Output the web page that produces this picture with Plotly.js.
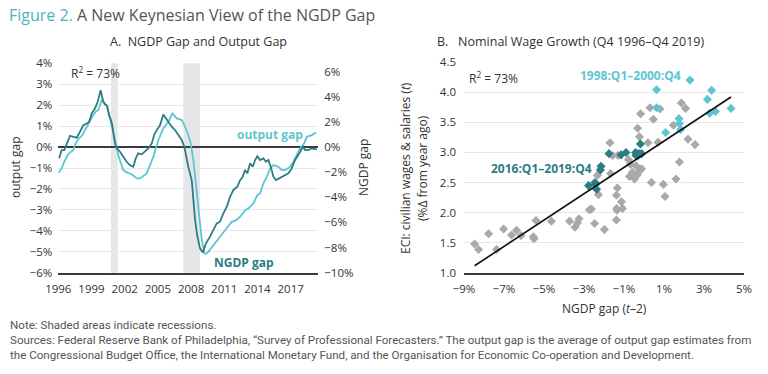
<!DOCTYPE html>
<html>
<head>
<meta charset="utf-8">
<script src="https://cdn.plot.ly/plotly-3.0.1.min.js"></script>
<style>
  html, body { margin: 0; padding: 0; background: #fff; }
  #chart { width: 768px; height: 374px; }
</style>
</head>
<body>
<div id="chart"></div>
<script>
// ---------- Panel A data ----------
const ngdpYears = [1996.06,1996.31,1996.54,1996.76,1997.06,1997.36,1997.66,1997.96,1998.26,1998.57,1998.78,1999.02,1999.32,1999.56,1999.83,2000.07,2000.22,2000.40,2000.58,2000.76,2000.88,2001.01,2001.13,2001.28,2001.58,2001.88,2002.18,2002.47,2002.78,2003.00,2003.23,2003.54,2003.84,2004.14,2004.45,2004.68,2004.90,2005.20,2005.49,2005.65,2005.95,2006.25,2006.55,2006.85,2007.16,2007.39,2007.61,2007.75,2008.06,2008.21,2008.36,2008.57,2008.81,2009.06,2009.35,2009.71,2010.01,2010.32,2010.62,2010.92,2011.23,2011.53,2011.82,2012.18,2012.43,2012.67,2012.88,2013.09,2013.33,2013.58,2013.79,2013.99,2014.24,2014.54,2014.78,2014.99,2015.20,2015.44,2015.68,2015.98,2016.34,2016.80,2017.10,2017.40,2017.79,2018.10,2018.31,2018.60,2018.91,2019.36];
const ngdpGap = [-0.9,-0.24,-0.24,0.29,0.9,0.82,0.75,1.22,1.75,1.88,2.0,2.68,3.08,3.6,4.53,3.6,3.4,3.3,2.55,2.15,1.75,0.95,0.29,-0.1,-0.37,-0.77,-1.17,-1.43,-1.57,-0.9,-0.5,-0.58,-0.37,-0.1,0.29,1.01,1.35,1.75,2.6,2.4,2.0,1.62,1.35,0.95,0.56,0.03,-1.17,-1.57,-2.63,-4.2,-5.8,-7.1,-8.06,-8.4,-7.66,-7.13,-6.6,-6.07,-5.94,-5.27,-4.75,-3.95,-3.42,-3.16,-2.63,-2.36,-1.83,-2.09,-1.3,-1.57,-1.03,-0.72,-1.03,-0.9,-1.17,-1.03,-1.57,-2.36,-2.63,-2.49,-2.31,-2.09,-1.7,-1.03,-0.5,0.02,-0.24,-0.24,-0.1,-0.18];

const outYears = [1996.00,1996.31,1996.54,1996.85,1997.15,1997.36,1997.57,1997.87,1998.17,1998.48,1998.78,1999.07,1999.38,1999.62,1999.92,2000.22,2000.47,2000.67,2000.88,2001.06,2001.22,2001.42,2001.66,2001.88,2002.18,2002.64,2003.09,2003.39,2003.99,2004.29,2004.59,2005.04,2005.49,2005.95,2006.31,2006.71,2007.16,2007.46,2007.91,2008.21,2008.51,2008.75,2008.97,2009.20,2009.33,2009.56,2010.01,2010.47,2010.92,2011.37,2011.68,2012.07,2012.43,2012.88,2013.18,2013.63,2013.99,2014.24,2014.54,2014.84,2015.14,2015.44,2015.89,2016.20,2016.50,2016.95,2017.25,2017.56,2017.85,2018.15,2018.46,2018.91,2019.30];
const outputGap = [-1.23,-1.02,-0.7,-0.38,-0.22,-0.14,0.18,0.42,0.57,0.89,1.13,1.45,1.69,1.77,2.24,2.09,1.85,1.37,0.97,0.57,0.13,-0.38,-0.78,-1.1,-1.21,-1.3,-1.5,-1.5,-1.26,-0.9,-0.46,0.33,0.89,1.21,1.61,1.37,1.29,0.97,0.33,-0.62,-2.05,-3.49,-4.44,-5.08,-5.11,-5.0,-4.68,-4.36,-4.04,-3.77,-3.57,-3.49,-3.33,-3.01,-2.93,-2.69,-2.29,-2.21,-1.73,-1.42,-1.02,-0.86,-0.94,-1.1,-1.1,-0.94,-0.7,-0.38,-0.06,0.1,0.49,0.57,0.7];

const recessionStart = [2000.76, 2007.30];
const recessionEnd   = [2001.37, 2008.81];
const yearTicks = [1996, 1999, 2002, 2005, 2008, 2011, 2014, 2017];
const outTicks  = [-6, -5, -4, -3, -2, -1, 0, 1, 2, 3, 4];
const ngdpTicks = [-10, -8, -6, -4, -2, 0, 2, 4, 6];

// ---------- Panel B data ----------
const grayX = [-8.47,-8.27,-7.77,-7.37,-7.02,-6.62,-6.37,-6.15,-5.53,-5.5,-5.4,-4.63,-3.72,-3.45,-3.33,-3.25,-2.73,-2.63,-2.47,-1.98,
  -2.33,-2.28,-1.67,-1.33,-1.38,-1.13,-1.37,-1.35,-1.07,-1.38,-0.73,-0.58,-0.47,-0.33,-0.2,0.37,0.97,1.05,1.6,
  -0.78,-0.67,-0.4,-0.12,-1.57,-1.3,-1.7,-0.17,-0.32,-0.23,0.2,0.3,0.8,0.47,1.87,2.08,1.47,0.7,2.2,2.55,1.77];
const grayY = [1.48,1.39,1.65,1.39,1.73,1.63,1.71,1.62,1.6,1.57,1.87,1.86,1.86,1.76,1.83,1.9,2.05,2.06,1.82,1.72,
  2.62,2.3,2.65,2.41,2.29,2.18,2.07,2.04,2.07,1.88,2.6,2.67,2.56,2.63,2.7,2.5,2.47,2.27,2.56,
  2.88,2.8,2.78,2.73,2.95,2.95,3.16,3.64,3.4,3.26,3.16,3.74,3.72,3.55,3.82,3.73,3.45,3.17,3.22,3.13,2.84];
const recentX = [-2.77,-2.45,-2.43,-2.37,-2.18,-2.15,-1.75,-1.15,-0.9,-0.42,-0.35,-0.3,-0.12,-0.18,-0.25,-0.4];
const recentY = [2.45,2.5,2.47,2.39,2.71,2.77,2.98,2.96,3.0,3.0,2.97,2.95,2.98,3.14,2.98,2.95];
const boomX = [0.63,2.3,3.38,3.17,0.63,3.28,3.57,4.35,1.75,1.77,1.83,1.08];
const boomY = [4.04,4.2,4.03,3.88,3.74,3.65,3.68,3.73,3.56,3.48,3.38,3.33];
const fitX = [-8.47, 4.35];
const fitY = [1.12, 3.92];
const gapTicks = [-9, -7, -5, -3, -1, 1, 3, 5];
const wageTicks = [1.0, 1.5, 2.0, 2.5, 3.0, 3.5, 4.0, 4.5];

// ---------- styling ----------
const FONT = 'Open Sans, sans-serif';
const TXT = '#333333';
const CYAN = '#5cc6d1';
const TEAL = '#2c7c84';
const GRAY = '#a9a9a9';
const GRID = '#e8e8e8';

const W = 768, H = 374;
const px = v => v / W;
const py = v => (H - v) / H;
const pct = v => (v < 0 ? '\u2212' + Math.abs(v) : String(v)) + '%';

const traces = [
  { x: outYears, y: outputGap, type: 'scatter', mode: 'lines', xaxis: 'x', yaxis: 'y',
    line: { color: CYAN, width: 1.8 }, hoverinfo: 'skip' },
  { x: ngdpYears, y: ngdpGap, type: 'scatter', mode: 'lines', xaxis: 'x', yaxis: 'y2',
    line: { color: TEAL, width: 1.8 }, hoverinfo: 'skip' },
  { x: grayX, y: grayY, type: 'scatter', mode: 'markers', xaxis: 'x2', yaxis: 'y3',
    marker: { symbol: 'diamond', size: 7, color: GRAY }, hoverinfo: 'skip' },
  { x: recentX, y: recentY, type: 'scatter', mode: 'markers', xaxis: 'x2', yaxis: 'y3',
    marker: { symbol: 'diamond', size: 7, color: TEAL }, hoverinfo: 'skip' },
  { x: boomX, y: boomY, type: 'scatter', mode: 'markers', xaxis: 'x2', yaxis: 'y3',
    marker: { symbol: 'diamond', size: 7, color: CYAN }, hoverinfo: 'skip' },
  { x: fitX, y: fitY, type: 'scatter', mode: 'lines', xaxis: 'x2', yaxis: 'y3',
    line: { color: '#111111', width: 1.6 }, hoverinfo: 'skip' }
];

const shapes = recessionStart.map((s, i) => ({
  type: 'rect', xref: 'x', yref: 'y domain', x0: s, x1: recessionEnd[i], y0: 0, y1: 1,
  fillcolor: '#e6e6e9', line: { width: 0 }, layer: 'below'
}));

const tickFont = { family: FONT, size: 11.5, color: TXT };
const noteFont = { family: 'Roboto, sans-serif', size: 11.6, color: '#555555' };

const layout = {
  width: W, height: H,
  margin: { l: 0, r: 0, t: 0, b: 0 },
  paper_bgcolor: '#ffffff', plot_bgcolor: 'rgba(0,0,0,0)',
  showlegend: false,
  font: { family: FONT, color: TXT },
  xaxis: {
    domain: [px(58.3), px(318.3)], anchor: 'y', range: [1996, 2019.5],
    tickmode: 'array', tickvals: yearTicks, ticktext: yearTicks.map(String), tickfont: tickFont,
    showgrid: false, zeroline: false, showline: true, linecolor: '#3a3a3a', linewidth: 2,
    ticks: '', ticklabelstandoff: 4
  },
  yaxis: {
    domain: [py(272.7), py(63.3)], anchor: 'x', range: [-6, 4],
    tickmode: 'array', tickvals: outTicks, ticktext: outTicks.map(pct), tickfont: tickFont,
    showgrid: true, gridcolor: GRID, gridwidth: 1,
    zeroline: true, zerolinecolor: '#3a3a3a', zerolinewidth: 1.2,
    showline: false, ticks: '', ticklabelstandoff: 5
  },
  yaxis2: {
    overlaying: 'y', side: 'right', anchor: 'x', range: [-10, 20/3],
    tickmode: 'array', tickvals: ngdpTicks, ticktext: ngdpTicks.map(pct), tickfont: tickFont,
    showgrid: false, zeroline: false, showline: false, ticks: '', ticklabelstandoff: 5
  },
  xaxis2: {
    domain: [px(464), px(744)], anchor: 'y3', range: [-9, 5],
    tickmode: 'array', tickvals: gapTicks, ticktext: gapTicks.map(pct), tickfont: tickFont,
    showgrid: false, zeroline: false, showline: true, linecolor: '#3a3a3a', linewidth: 2,
    ticks: '', ticklabelstandoff: 4
  },
  yaxis3: {
    domain: [py(273), py(62)], anchor: 'x2', range: [1.0, 4.5],
    tickmode: 'array', tickvals: wageTicks, ticktext: wageTicks.map(v => v.toFixed(1)), tickfont: tickFont,
    showgrid: true, gridcolor: GRID, gridwidth: 1, zeroline: false, showline: false,
    ticks: '', ticklabelstandoff: 7
  },
  shapes: shapes,
  annotations: [
    { xref: 'paper', yref: 'paper', x: px(7), y: py(15), xanchor: 'left', yanchor: 'middle', showarrow: false,
      text: '<span style="color:#4eb2bd">Figure 2.</span> A New Keynesian View of the NGDP Gap',
      font: { family: FONT, size: 16, color: '#555555' } },
    { xref: 'paper', yref: 'paper', x: px(198), y: py(41), xanchor: 'center', yanchor: 'middle', showarrow: false,
      text: 'A.  NGDP Gap and Output Gap', font: { family: FONT, size: 12.5, color: TXT } },
    { xref: 'paper', yref: 'paper', x: px(570), y: py(41), xanchor: 'center', yanchor: 'middle', showarrow: false,
      text: 'B.   Nominal Wage Growth (Q4 1996–Q4 2019)', font: { family: FONT, size: 12.5, color: TXT } },
    // axis titles panel A
    { xref: 'paper', yref: 'paper', x: px(15), y: py(168), xanchor: 'center', yanchor: 'middle', showarrow: false,
      textangle: -90, text: 'output gap', font: { family: FONT, size: 12, color: TXT } },
    { xref: 'paper', yref: 'paper', x: px(363), y: py(168), xanchor: 'center', yanchor: 'middle', showarrow: false,
      textangle: -90, text: 'NGDP gap', font: { family: FONT, size: 12, color: TXT } },
    // panel A labels
    { xref: 'paper', yref: 'paper', x: px(69), y: py(73), xanchor: 'left', yanchor: 'middle', showarrow: false,
      text: 'R<sup>2</sup> = 73%', font: { family: FONT, size: 12, color: TXT } },
    { xref: 'paper', yref: 'paper', x: px(270), y: py(134), xanchor: 'center', yanchor: 'middle', showarrow: false,
      text: '<b>output gap</b>', font: { family: FONT, size: 12, color: CYAN } },
    { xref: 'paper', yref: 'paper', x: px(244), y: py(262), xanchor: 'center', yanchor: 'middle', showarrow: false,
      text: '<b>NGDP gap</b>', font: { family: FONT, size: 12, color: TEAL } },
    // axis titles panel B
    { xref: 'paper', yref: 'paper', x: px(405), y: py(168), xanchor: 'center', yanchor: 'middle', showarrow: false,
      textangle: -90, text: 'ECI: civilian wages &amp; salaries (<i>t</i>)', font: { family: FONT, size: 12, color: TXT } },
    { xref: 'paper', yref: 'paper', x: px(422), y: py(168), xanchor: 'center', yanchor: 'middle', showarrow: false,
      textangle: -90, text: '(%Δ from year ago)', font: { family: FONT, size: 12, color: TXT } },
    { xref: 'paper', yref: 'paper', x: px(604), y: py(308), xanchor: 'center', yanchor: 'middle', showarrow: false,
      text: 'NGDP gap (<i>t</i>–2)', font: { family: FONT, size: 12, color: TXT } },
    // panel B labels
    { xref: 'paper', yref: 'paper', x: px(467), y: py(78), xanchor: 'left', yanchor: 'middle', showarrow: false,
      text: 'R<sup>2</sup> = 73%', font: { family: FONT, size: 12, color: TXT } },
    { xref: 'paper', yref: 'paper', x: px(630), y: py(75), xanchor: 'center', yanchor: 'middle', showarrow: false,
      text: '<b>1998:Q1–2000:Q4</b>', font: { family: FONT, size: 12, color: CYAN } },
    { xref: 'paper', yref: 'paper', x: px(541), y: py(168), xanchor: 'center', yanchor: 'middle', showarrow: false,
      text: '<b>2016:Q1–2019:Q4</b>', font: { family: FONT, size: 12, color: TEAL } },
    // notes
    { xref: 'paper', yref: 'paper', x: px(8), y: py(325), xanchor: 'left', yanchor: 'middle', showarrow: false,
      text: 'Note: Shaded areas indicate recessions.', font: noteFont },
    { xref: 'paper', yref: 'paper', x: px(8), y: py(340), xanchor: 'left', yanchor: 'middle', showarrow: false,
      text: 'Sources: Federal Reserve Bank of Philadelphia, “Survey of Professional Forecasters.” The output gap is the average of output gap estimates from',
      font: noteFont },
    { xref: 'paper', yref: 'paper', x: px(8), y: py(355), xanchor: 'left', yanchor: 'middle', showarrow: false,
      text: 'the Congressional Budget Office, the International Monetary Fund, and the Organisation for Economic Co-operation and Development.',
      font: noteFont }
  ]
};

Plotly.newPlot('chart', traces, layout, { staticPlot: true, displayModeBar: false });
</script>
</body>
</html>
